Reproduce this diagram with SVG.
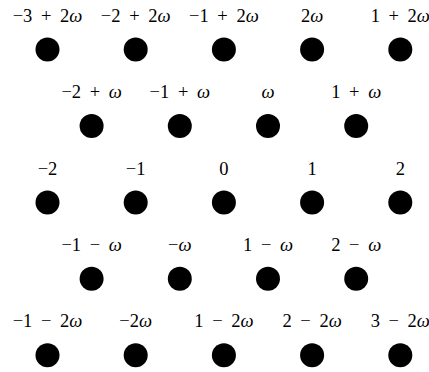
<svg xmlns="http://www.w3.org/2000/svg" width="429" height="372" viewBox="0 0 429 372">
<style>
.dot{fill:#000}
.lbl{font-family:"Liberation Serif","Times New Roman",serif;font-size:18.5px;fill:#000;text-anchor:middle;word-spacing:4px}
.w{font-style:italic}
</style>
<rect width="429" height="372" fill="#fff"/>
<g id="connectors"></g>
<g id="n-3p2w"><circle class="dot" cx="47.5" cy="49.5" r="12"/><text class="lbl" x="47.5" y="21.5">−3 + 2<tspan class="w">ω</tspan></text></g>
<g id="n-2p2w"><circle class="dot" cx="135.7" cy="49.5" r="12"/><text class="lbl" x="135.7" y="21.5">−2 + 2<tspan class="w">ω</tspan></text></g>
<g id="n-1p2w"><circle class="dot" cx="223.9" cy="49.5" r="12"/><text class="lbl" x="223.9" y="21.5">−1 + 2<tspan class="w">ω</tspan></text></g>
<g id="n2w"><circle class="dot" cx="312.1" cy="49.5" r="12"/><text class="lbl" x="312.1" y="21.5">2<tspan class="w">ω</tspan></text></g>
<g id="n1p2w"><circle class="dot" cx="400.3" cy="49.5" r="12"/><text class="lbl" x="400.3" y="21.5">1 + 2<tspan class="w">ω</tspan></text></g>

<g id="n-2pw"><circle class="dot" cx="91.6" cy="126" r="12"/><text class="lbl" x="91.6" y="98">−2 + <tspan class="w">ω</tspan></text></g>
<g id="n-1pw"><circle class="dot" cx="179.8" cy="126" r="12"/><text class="lbl" x="179.8" y="98">−1 + <tspan class="w">ω</tspan></text></g>
<g id="nw"><circle class="dot" cx="268" cy="126" r="12"/><text class="lbl" x="268" y="98"><tspan class="w">ω</tspan></text></g>
<g id="n1pw"><circle class="dot" cx="356.2" cy="126" r="12"/><text class="lbl" x="356.2" y="98">1 + <tspan class="w">ω</tspan></text></g>

<g id="n-2"><circle class="dot" cx="47.5" cy="202.4" r="12"/><text class="lbl" x="47.5" y="175">−2</text></g>
<g id="n-1"><circle class="dot" cx="135.7" cy="202.4" r="12"/><text class="lbl" x="135.7" y="175">−1</text></g>
<g id="n0"><circle class="dot" cx="223.9" cy="202.4" r="12"/><text class="lbl" x="223.9" y="175">0</text></g>
<g id="n1"><circle class="dot" cx="312.1" cy="202.4" r="12"/><text class="lbl" x="312.1" y="175">1</text></g>
<g id="n2"><circle class="dot" cx="400.3" cy="202.4" r="12"/><text class="lbl" x="400.3" y="175">2</text></g>

<g id="n-1mw"><circle class="dot" cx="91.6" cy="278.8" r="12"/><text class="lbl" x="91.6" y="250.5">−1 − <tspan class="w">ω</tspan></text></g>
<g id="nmw"><circle class="dot" cx="179.8" cy="278.8" r="12"/><text class="lbl" x="179.8" y="250.5">−<tspan class="w">ω</tspan></text></g>
<g id="n1mw"><circle class="dot" cx="268" cy="278.8" r="12"/><text class="lbl" x="268" y="250.5">1 − <tspan class="w">ω</tspan></text></g>
<g id="n2mw"><circle class="dot" cx="356.2" cy="278.8" r="12"/><text class="lbl" x="356.2" y="250.5">2 − <tspan class="w">ω</tspan></text></g>

<g id="n-1m2w"><circle class="dot" cx="47.5" cy="355.2" r="12"/><text class="lbl" x="47.5" y="327">−1 − 2<tspan class="w">ω</tspan></text></g>
<g id="nm2w"><circle class="dot" cx="135.7" cy="355.2" r="12"/><text class="lbl" x="135.7" y="327">−2<tspan class="w">ω</tspan></text></g>
<g id="n1m2w"><circle class="dot" cx="223.9" cy="355.2" r="12"/><text class="lbl" x="223.9" y="327">1 − 2<tspan class="w">ω</tspan></text></g>
<g id="n2m2w"><circle class="dot" cx="312.1" cy="355.2" r="12"/><text class="lbl" x="312.1" y="327">2 − 2<tspan class="w">ω</tspan></text></g>
<g id="n3m2w"><circle class="dot" cx="400.3" cy="355.2" r="12"/><text class="lbl" x="400.3" y="327">3 − 2<tspan class="w">ω</tspan></text></g>
</svg>
